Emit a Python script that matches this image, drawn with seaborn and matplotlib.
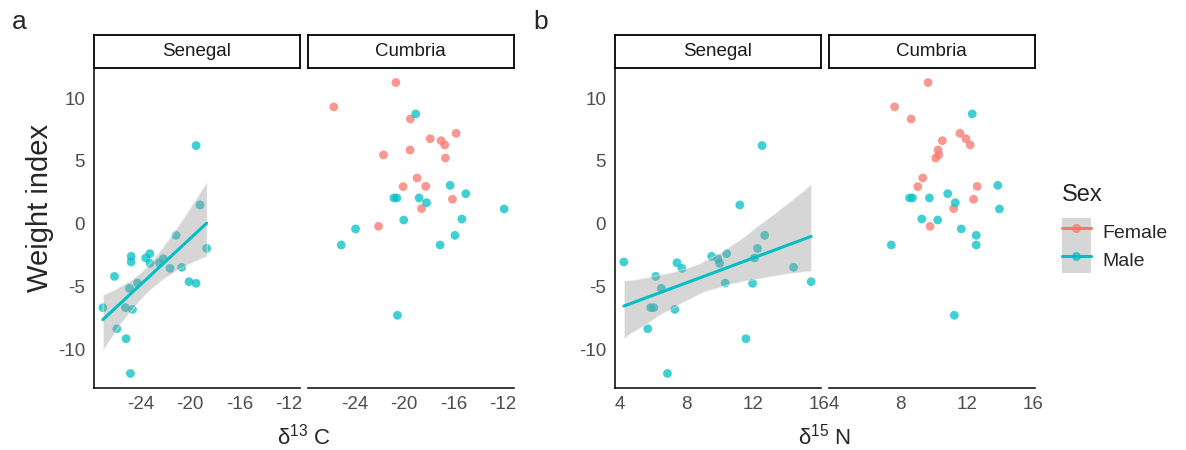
import numpy as np
import pandas as pd
import seaborn as sns
import matplotlib.pyplot as plt
from matplotlib.lines import Line2D
from matplotlib.patches import Patch
from matplotlib.legend_handler import HandlerTuple

# --- data ---
# Senegal: all males
sen_weight = [6.22, 1.49, -0.93, -1.97, -2.60, -3.05, -4.20, -2.73, -2.39, -3.16, -3.11, -2.79,
              -3.56, -3.48, -4.62, -4.75, -4.73, -5.15, -6.69, -6.69, -6.83, -8.37, -9.16, -11.93]
sen_d13c = [-19.53, -19.21, -21.15, -18.67, -24.78, -24.78, -26.13, -23.60, -23.27, -23.25, -22.50, -22.18,
            -21.63, -20.69, -20.10, -19.53, -24.27, -24.92, -27.07, -25.24, -24.68, -25.94, -25.19, -24.84]
sen_d15n = [12.57, 11.23, 12.73, 12.30, 9.53, 4.24, 6.16, 12.12, 10.44, 10.02, 7.44, 9.90,
            7.74, 14.47, 15.53, 12.00, 10.35, 6.50, 5.86, 6.04, 7.31, 5.68, 11.60, 6.87]

# Cumbria females
cum_f_weight = [11.24, 9.30, 8.34, 7.20, 6.77, 6.61, 6.27, 5.87, 5.47, 5.23, 3.64, 2.95, 2.97, 1.94, 1.20, -0.21]
cum_f_d13c = [-20.68, -25.70, -19.50, -15.80, -17.90, -17.02, -16.72, -19.53, -21.68, -16.67,
              -18.96, -20.09, -18.26, -16.10, -18.60, -22.08]
cum_f_d15n = [9.68, 7.66, 8.66, 11.60, 11.96, 10.54, 12.22, 10.28, 10.32, 10.14,
              9.36, 9.06, 12.64, 12.42, 11.22, 9.80]

# Cumbria males
cum_m_weight = [8.74, 3.05, 2.39, 2.05, 2.05, 2.05, 1.67, 1.17, 0.29, 0.37, -0.42, -0.93, -1.70, -1.70, -7.30]
cum_m_d13c = [-19.07, -16.29, -15.02, -20.84, -20.60, -18.80, -18.20, -11.92, -20.04, -15.34,
              -23.94, -15.90, -25.10, -17.10, -20.55]
cum_m_d15n = [12.34, 13.88, 10.86, 8.56, 8.74, 9.76, 11.32, 13.98, 10.26, 9.30,
              11.68, 12.58, 7.46, 12.58, 11.26]

sites = ["Senegal", "Cumbria"]
sexes = ["Female", "Male"]
palette = {"Female": "#F8766D", "Male": "#00BFC4"}
x_ticks = {"d13C": [-24, -20, -16, -12], "d15N": [4, 8, 12, 16]}


def frame(site, sex, d13c, d15n, weight):
    return pd.DataFrame({"Site": site, "Sex": sex, "d13C": d13c, "d15N": d15n, "Weight": weight})


df = pd.concat([
    frame("Senegal", "Male", sen_d13c, sen_d15n, sen_weight),
    frame("Cumbria", "Female", cum_f_d13c, cum_f_d15n, cum_f_weight),
    frame("Cumbria", "Male", cum_m_d13c, cum_m_d15n, cum_m_weight),
], ignore_index=True)

# --- style ---
sns.set_style("white")
plt.rcParams["font.family"] = ["Liberation Sans", "DejaVu Sans"]
plt.rcParams["mathtext.fontset"] = "custom"
plt.rcParams["mathtext.rm"] = "Liberation Sans"
plt.rcParams["mathtext.it"] = "Liberation Sans:italic"
plt.rcParams["axes.unicode_minus"] = False

W, H = 1186, 450
fig = plt.figure(figsize=(W / 100, H / 100), dpi=100)

PANEL_W, PANEL_TOP, PANEL_BOT = 206, 68, 388
STRIP_TOP = 35


def expanded(col):
    lo, hi = df[col].min(), df[col].max()
    pad = 0.05 * (hi - lo)
    return lo - pad, hi + pad


ylim = expanded("Weight")


def add_panel(left, site, xcol, show_y):
    ax = fig.add_axes([left / W, 1 - PANEL_BOT / H, PANEL_W / W, (PANEL_BOT - PANEL_TOP) / H])
    sub = df[df["Site"] == site]
    sns.scatterplot(data=sub, x=xcol, y="Weight", hue="Sex", hue_order=sexes, palette=palette,
                    s=40, alpha=0.75, edgecolor="none", legend=False, ax=ax, zorder=2)
    if site == "Senegal":
        sns.regplot(data=sub, x=xcol, y="Weight", scatter=False, ci=95, n_boot=2000, seed=3,
                    color=palette["Male"], line_kws={"lw": 2.2, "zorder": 4}, ax=ax)
        band = ax.collections[-1]
        band.set_facecolor("#999999")
        band.set_alpha(0.4)
        band.set_zorder(3)
    ax.set_xlim(*expanded(xcol))
    ax.set_ylim(*ylim)
    ax.set_xticks(x_ticks[xcol])
    ax.set_xticklabels([str(t) for t in x_ticks[xcol]])
    ax.set_yticks([-10, -5, 0, 5, 10])
    ax.set_xlabel("")
    ax.set_ylabel("")
    for s in ["top", "right"]:
        ax.spines[s].set_visible(False)
    ax.spines["bottom"].set_linewidth(1.1)
    ax.spines["bottom"].set_color("black")
    ax.tick_params(axis="both", length=4, width=1, color="#333333",
                   labelsize=13.5, labelcolor="#4d4d4d", pad=2)
    if show_y:
        ax.spines["left"].set_linewidth(1.1)
        ax.spines["left"].set_color("black")
    else:
        ax.spines["left"].set_visible(False)
        ax.tick_params(axis="y", left=False, labelleft=False)

    # facet strip
    sx = fig.add_axes([left / W, 1 - PANEL_TOP / H, PANEL_W / W, (PANEL_TOP - STRIP_TOP) / H])
    sx.set_xticks([])
    sx.set_yticks([])
    for s in sx.spines.values():
        s.set_visible(True)
        s.set_linewidth(1.3)
        s.set_color("black")
    sx.text(0.5, 0.5, site, ha="center", va="center", fontsize=13.5, color="#1a1a1a",
            transform=sx.transAxes)
    return ax


add_panel(93.5, "Senegal", "d13C", True)
add_panel(307.5, "Cumbria", "d13C", False)
add_panel(614.5, "Senegal", "d15N", True)
add_panel(828.5, "Cumbria", "d15N", False)

# panel tags and axis titles
fig.text(12 / W, 1 - 22 / H, "a", fontsize=19, va="center", ha="left")
fig.text(533 / W, 1 - 22 / H, "b", fontsize=19, va="center", ha="left")
fig.text(40 / W, 1 - 208 / H, "Weight index", rotation=90, fontsize=21, ha="center", va="center")
fig.text(304 / W, 1 - 445 / H, "δ$^{13}$ C", fontsize=16, ha="center", va="baseline")
fig.text(824 / W, 1 - 445 / H, "δ$^{15}$ N", fontsize=16, ha="center", va="baseline")

# legend: title as its own text, keys below it
fig.text(1062 / W, 1 - 195 / H, "Sex", fontsize=17, ha="left", va="center")
handles = []
for sex in sexes:
    handles.append((Patch(facecolor="#d6d6d6", edgecolor="none"),
                    Line2D([], [], color=palette[sex], lw=2.2),
                    Line2D([], [], color=palette[sex], marker="o", ls="", markersize=6.5,
                           markeredgewidth=0, alpha=0.75)))
leg = fig.legend(handles, sexes, loc="upper left",
                 bbox_to_anchor=(1061.5 / W, 1 - 218 / H), frameon=False, borderaxespad=0,
                 handler_map={tuple: HandlerTuple(ndivide=1, pad=0)},
                 fontsize=14, labelspacing=0, handlelength=1.5,
                 handleheight=1.8, handletextpad=0.6, borderpad=0)

fig.savefig("out.png", dpi=100)
